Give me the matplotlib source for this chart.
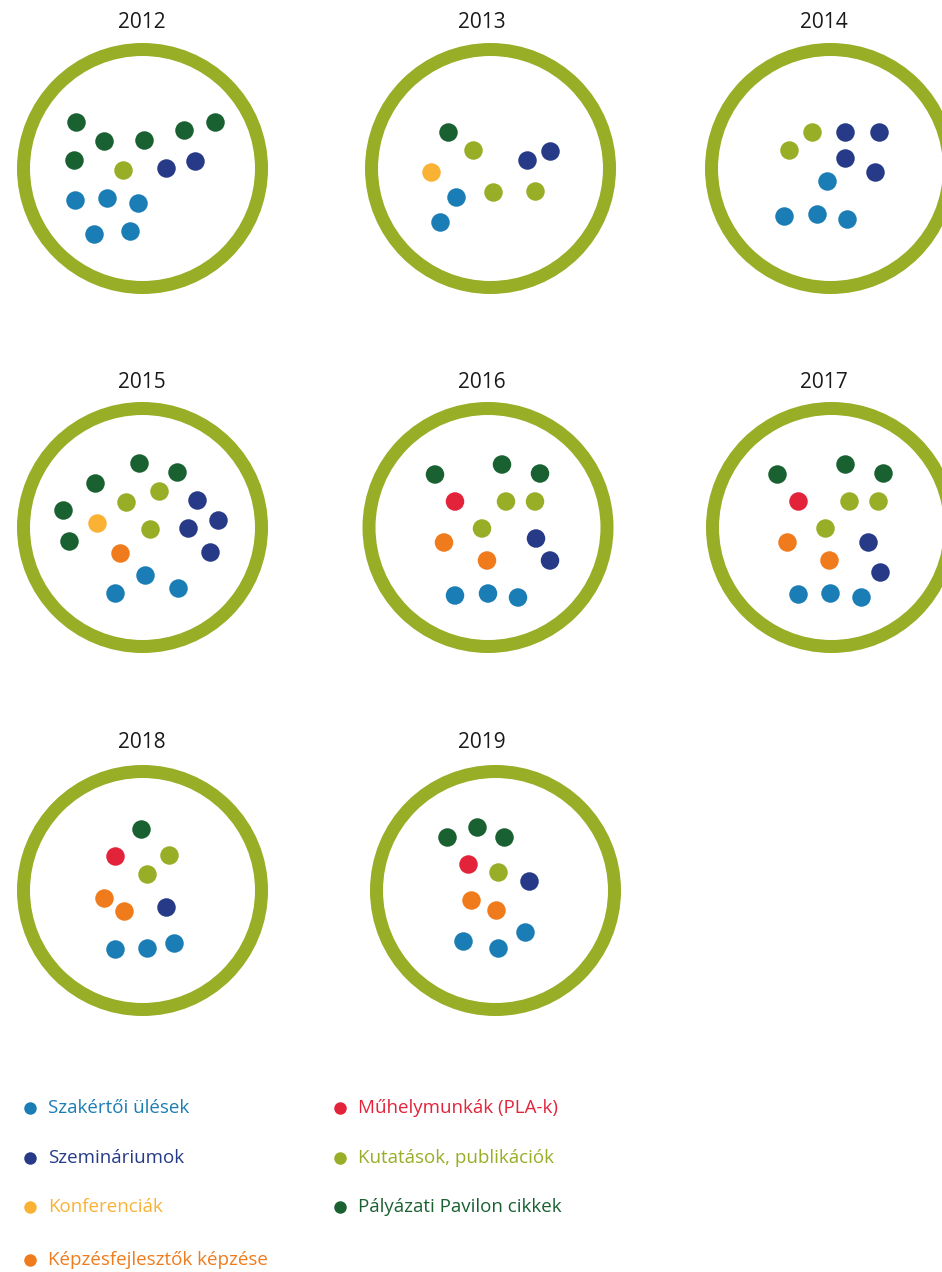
import matplotlib.pyplot as plt
from matplotlib.patches import Circle

# --- adatok ---
CATEGORIES = ['Szakértői ülések', 'Szemináriumok', 'Konferenciák',
              'Képzésfejlesztők képzése', 'Műhelymunkák (PLA-k)',
              'Kutatások, publikációk', 'Pályázati Pavilon cikkek']
COLORS = ['#1b7db5', '#263a87', '#f9b234', '#ef7b1c', '#e3233a',
          '#97ae26', '#1a6132']
YEARS = ['2012', '2013', '2014', '2015', '2016', '2017', '2018', '2019']

# pontok: (kategória index, dx, dy) a kör közepéhez képest
DOTS_2012 = [(6, -66, -46), (6, -38, -27), (6, 2, -28), (6, 42, -38), (6, 73, -46),
             (6, -68, -8), (5, -19, 2), (1, 24, 0), (1, 53, -7),
             (0, -67, 32), (0, -35, 30), (0, -4, 35), (0, -48, 66), (0, -12, 63)]
DOTS_2013 = [(6, -42, -36), (5, -17, -18), (5, 3, 24), (5, 45, 23),
             (1, 37, -8), (1, 60, -17), (2, -59, 4), (0, -34, 29), (0, -50, 54)]
DOTS_2014 = [(5, -18, -36), (5, -41, -18), (1, 15, -36), (1, 49, -36),
             (1, 15, -10), (1, 45, 4), (0, -3, 13), (0, -46, 48),
             (0, -13, 46), (0, 17, 51)]
DOTS_2015 = [(6, -3, -64), (6, 35, -55), (6, -47, -44), (6, -79, -17), (6, -73, 14),
             (5, -16, -25), (5, 17, -36), (5, 8, 2),
             (1, 55, -27), (1, 76, -7), (1, 46, 1), (1, 68, 25),
             (2, -45, -4), (3, -22, 26), (0, 3, 48), (0, -27, 66), (0, 36, 61)]
DOTS_2016 = [(6, -53, -53), (6, 14, -63), (6, 52, -54), (4, -33, -26),
             (5, 18, -26), (5, 47, -26), (5, -6, 1), (3, -44, 15), (3, -1, 33),
             (1, 48, 11), (1, 62, 33), (0, -33, 68), (0, 0, 66), (0, 30, 70)]
DOTS_2017 = [(6, -54, -53), (6, 14, -63), (6, 52, -54), (4, -33, -26),
             (5, 18, -26), (5, 47, -26), (5, -6, 1), (3, -44, 15), (3, -2, 33),
             (1, 37, 15), (1, 49, 45), (0, -33, 67), (0, -1, 66), (0, 30, 70)]
DOTS_2018 = [(6, -1, -61), (4, -27, -34), (5, 27, -35), (5, 5, -16),
             (3, -38, 8), (3, -18, 21), (1, 24, 17),
             (0, -27, 59), (0, 5, 58), (0, 32, 53)]
DOTS_2019 = [(6, -48, -53), (6, -18, -63), (6, 9, -53), (4, -27, -26),
             (5, 3, -18), (1, 34, -9), (3, -24, 10), (3, 1, 20),
             (0, 30, 42), (0, -32, 51), (0, 3, 58)]
DOTS = [DOTS_2012, DOTS_2013, DOTS_2014, DOTS_2015,
        DOTS_2016, DOTS_2017, DOTS_2018, DOTS_2019]

# --- elrendezés (pixel) ---
W, H = 942, 1272
CENTERS = [(142.5, 168.5), (490.5, 168.5), (830.5, 168.5),
           (142.5, 527.5), (488, 527.5), (831.5, 527.5),
           (142.5, 890.5), (495.5, 890.5)]
LABEL_X = [142, 482, 824, 142, 482, 824, 142, 482]
LABEL_Y = [23, 23, 23, 383, 383, 383, 742, 742]
RING_R = 119
RING_W = 13 * 72 / 100   # px -> pt
DOT_S = (18.5 * 72 / 100) ** 2
RING_COLOR = '#97ae26'

plt.rcParams['font.family'] = ['Open Sans', 'DejaVu Sans']

fig = plt.figure(figsize=(W / 100, H / 100), dpi=100)
ax = fig.add_axes([0, 0, 1, 1])
ax.set_xlim(0, W)
ax.set_ylim(H, 0)
ax.set_aspect('equal')
ax.axis('off')

for i, year in enumerate(YEARS):
    cx, cy = CENTERS[i]
    ax.add_patch(Circle((cx, cy), RING_R, fill=False, edgecolor=RING_COLOR,
                        linewidth=RING_W))
    ax.text(LABEL_X[i], LABEL_Y[i], year, ha='center', va='center',
            fontsize=15, color='#1a1a1a')
    xs = [cx + d[1] for d in DOTS[i]]
    ys = [cy + d[2] for d in DOTS[i]]
    cs = [COLORS[d[0]] for d in DOTS[i]]
    ax.scatter(xs, ys, s=DOT_S, c=cs, linewidths=0, zorder=3)

# jelmagyarázat
LEG_POS = [(30, 1108), (30, 1158), (30, 1207), (30, 1260),
           (340, 1108), (340, 1158), (340, 1207)]
for k, name in enumerate(CATEGORIES):
    lx, ly = LEG_POS[k]
    ax.scatter([lx], [ly], s=(12.5 * 72 / 100) ** 2, c=COLORS[k], linewidths=0)
    ax.text(lx + 18, ly, name, ha='left', va='center', fontsize=13.5,
            color=COLORS[k])

fig.savefig('out.png', dpi=100)
